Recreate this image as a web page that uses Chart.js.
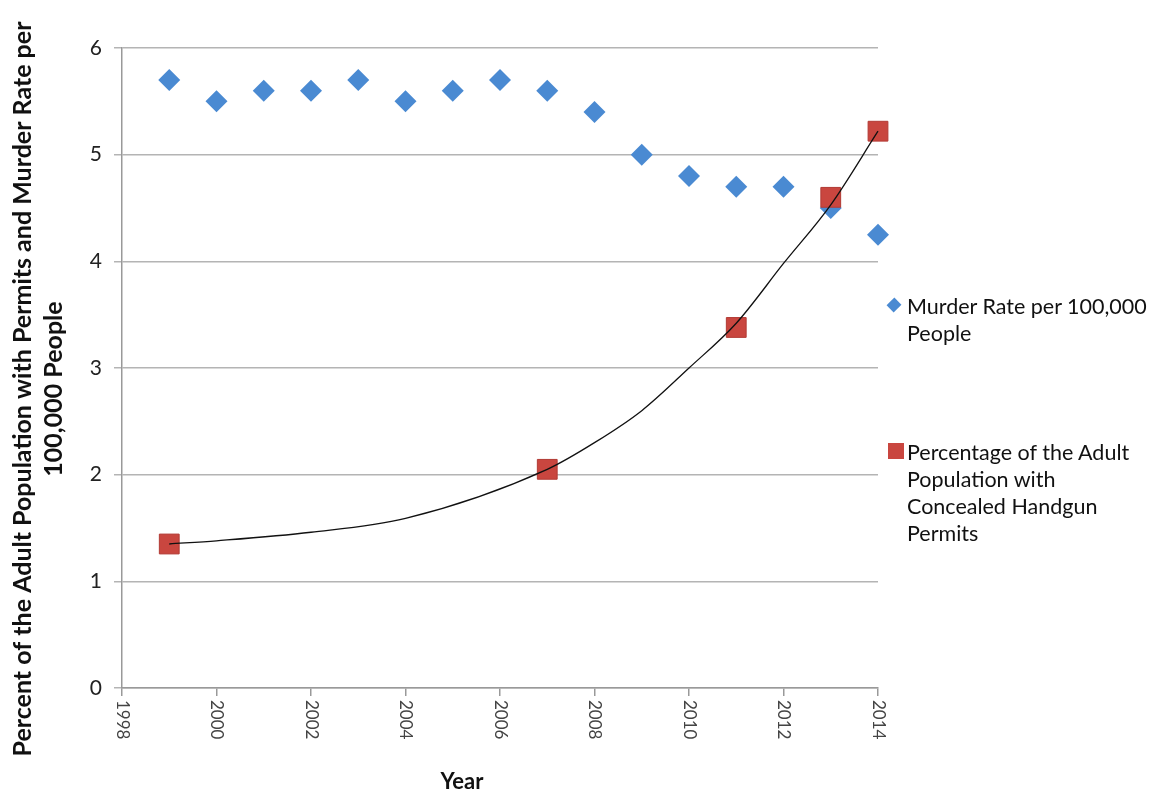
<!DOCTYPE html>
<html>
<head>
<meta charset="utf-8">
<script src="https://cdn.jsdelivr.net/npm/chart.js@4/dist/chart.umd.min.js"></script>
<style>
  html, body { margin: 0; padding: 0; background: #fff; }
  #wrap { position: relative; width: 1152px; height: 793px; }
  #legend { position: absolute; left: 886px; top: 293px; font-family: Lato, "Open Sans", sans-serif; font-size: 21.5px; color: #111; line-height: 27px; white-space: nowrap; }
  .item { position: relative; padding-left: 21px; }
  .diamond { position: absolute; left: 3px; top: 7px; width: 10px; height: 10px; background: #4a8ad2; transform: rotate(45deg) scaleY(1.1); }
  .square { position: absolute; left: 2px; top: 4px; width: 16px; height: 16px; background: #c9463f; }
</style>
</head>
<body>
<div id="wrap">
  <canvas id="chart" width="1152" height="793"></canvas>
  <div id="legend">
    <div class="item"><span class="diamond"></span>Murder Rate per 100,000<br>People</div>
    <div class="item" style="margin-top:92px"><span class="square"></span>Percentage of the Adult<br>Population with<br>Concealed Handgun<br>Permits</div>
  </div>
</div>
<script>
const years = [1999, 2000, 2001, 2002, 2003, 2004, 2005, 2006, 2007, 2008, 2009, 2010, 2011, 2012, 2013, 2014];
const murderRate = [5.7, 5.5, 5.6, 5.6, 5.7, 5.5, 5.6, 5.7, 5.6, 5.4, 5.0, 4.8, 4.7, 4.7, 4.5, 4.25];

const permitYears = [1999, 2007, 2011, 2013, 2014];
const permitPct = [1.35, 2.05, 3.38, 4.6, 5.22];

// trendline
const trendYears = [1999, 2000, 2002, 2004, 2007, 2008, 2009, 2010, 2011, 2012, 2013, 2014];
const trendValues = [1.35, 1.38, 1.46, 1.59, 2.05, 2.3, 2.6, 3.0, 3.42, 3.98, 4.53, 5.22];

const xTicks = [1998, 2000, 2002, 2004, 2006, 2008, 2010, 2012, 2014];
const yTitle = ['Percent of the Adult Population with Permits and Murder Rate per', '100,000 People'];
const FONT = 'Lato, "Open Sans", sans-serif';

const toPoints = (xs, ys) => xs.map((x, i) => ({ x, y: ys[i] }));

const textPlugin = {
  id: 'texts',
  afterDraw(chart) {
    const { ctx, scales } = chart;
    const x = scales.x;
    ctx.save();
    // x tick labels, rotated clockwise
    ctx.fillStyle = '#444';
    ctx.font = '17px ' + FONT;
    ctx.textAlign = 'left';
    ctx.textBaseline = 'middle';
    xTicks.forEach((t) => {
      const px = x.getPixelForValue(t);
      ctx.save();
      ctx.translate(px, chart.chartArea.bottom + 12);
      ctx.rotate(Math.PI / 2);
      ctx.fillText(String(t), 0, 0);
      ctx.restore();
    });
    // x title
    ctx.fillStyle = '#111';
    ctx.font = 'bold 22px ' + FONT;
    ctx.textAlign = 'center';
    ctx.fillText('Year', 462, 782);
    // y title, two lines
    ctx.font = 'bold 25px ' + FONT;
    [[23, yTitle[0]], [54, yTitle[1]]].forEach(([cx, txt]) => {
      ctx.save();
      ctx.translate(cx, 389);
      ctx.rotate(-Math.PI / 2);
      ctx.fillText(txt, 0, 0);
      ctx.restore();
    });
    ctx.restore();
  },
};

new Chart(document.getElementById('chart'), {
  type: 'scatter',
  data: {
    datasets: [
      {
        label: 'Murder Rate per 100,000 People',
        data: toPoints(years, murderRate),
        pointStyle: 'rectRot',
        pointRadius: 11,
        backgroundColor: '#4a8ad2',
        borderColor: '#4a8ad2',
        borderWidth: 0,
        clip: false,
        order: 2,
      },
      {
        label: 'Trend',
        type: 'line',
        data: toPoints(trendYears, trendValues),
        borderColor: '#111',
        borderWidth: 1.3,
        pointRadius: 0,
        cubicInterpolationMode: 'monotone',
        fill: false,
        clip: false,
        order: 0,
      },
      {
        label: 'Percentage of the Adult Population with Concealed Handgun Permits',
        data: toPoints(permitYears, permitPct),
        pointStyle: 'rect',
        pointRadius: 14,
        backgroundColor: '#c9463f',
        borderColor: '#b23a34',
        borderWidth: 1,
        clip: false,
        order: 1,
      },
    ],
  },
  options: {
    responsive: false,
    animation: false,
    layout: { padding: { top: 48, right: 274, left: 0, bottom: 0 } },
    plugins: {
      legend: { display: false },
      tooltip: { enabled: false },
    },
    scales: {
      x: {
        type: 'linear',
        min: 1998,
        max: 2014,
        ticks: { stepSize: 2, display: false },
        grid: { drawOnChartArea: false, drawTicks: true, tickLength: 8, color: '#999', lineWidth: 1.5 },
        border: { color: '#999', width: 1.5 },
        afterFit(scale) { scale.height = 105; },
      },
      y: {
        min: 0,
        max: 6,
        ticks: { stepSize: 1, color: '#222', font: { family: FONT, size: 21 }, padding: 12 },
        grid: { color: '#b4b4b4', lineWidth: 1.5, tickLength: 8 },
        border: { color: '#999', width: 1.5 },
        afterFit(scale) { scale.width = 122; },
      },
    },
  },
  plugins: [textPlugin],
});
</script>
</body>
</html>
